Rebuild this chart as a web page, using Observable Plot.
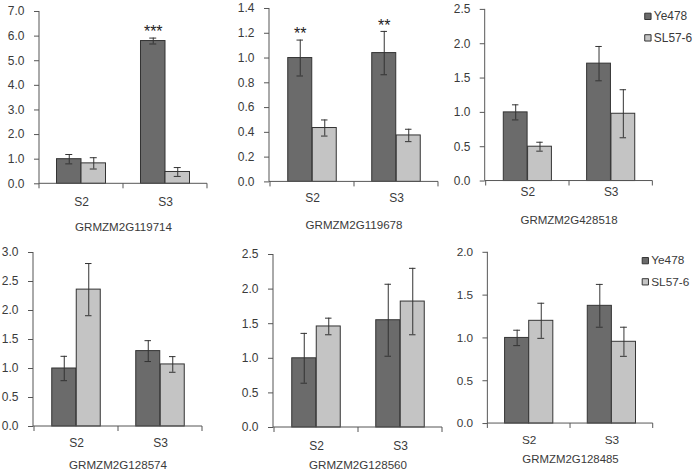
<!DOCTYPE html>
<html><head><meta charset="utf-8">
<script src="https://cdn.jsdelivr.net/npm/d3@7"></script>
<script src="https://cdn.jsdelivr.net/npm/@observablehq/plot@0.6"></script>
<style>
body{margin:0;background:#fff;}
#root{position:relative;width:697px;height:473px;overflow:hidden;font-family:"Liberation Sans",Arial,sans-serif;}
.panel{position:absolute;}
</style></head><body><div id="root"></div>
<script>
// ---- data ----
const stages = ["S2", "S3"];
const series = ["Ye478", "SL57-6"];
const genes = ["GRMZM2G119714", "GRMZM2G119678", "GRMZM2G428518", "GRMZM2G128574", "GRMZM2G128560", "GRMZM2G128485"];
// relative expression per gene: [S2, S3]
const ye478Mean = [[1.0, 5.8], [1.0, 1.04], [1.0, 1.71], [1.0, 1.30], [1.0, 1.55], [1.0, 1.375]];
const ye478Err  = [[0.19, 0.12], [0.145, 0.175], [0.11, 0.25], [0.21, 0.18], [0.36, 0.52], [0.09, 0.25]];
const sl576Mean = [[0.83, 0.48], [0.435, 0.375], [0.50, 0.98], [2.36, 1.07], [1.46, 1.82], [1.20, 0.955]];
const sl576Err  = [[0.23, 0.18], [0.065, 0.05], [0.065, 0.35], [0.45, 0.135], [0.12, 0.48], [0.205, 0.17]];
// significance marks on Ye478 bars: [S2, S3]
const signif = [["", "***"], ["**", "**"], ["", ""], ["", ""], ["", ""], ["", ""]];
// y-axis tick labels per gene
const yTicks = [
  [0, 1, 2, 3, 4, 5, 6, 7],
  [0, 0.2, 0.4, 0.6, 0.8, 1.0, 1.2, 1.4],
  [0, 0.5, 1.0, 1.5, 2.0, 2.5],
  [0, 0.5, 1.0, 1.5, 2.0, 2.5, 3.0],
  [0, 0.5, 1.0, 1.5, 2.0, 2.5],
  [0, 0.5, 1.0, 1.5, 2.0]
];

// ---- layout (pixels) ----
const layout = [
  {ax: 39,  top: 11,  bottom: 183.3, right: 207, catY: 201.7, geneY: 226.7},
  {ax: 269, top: 8.3, bottom: 181.7, right: 438, catY: 197.7, geneY: 225},
  {ax: 485, top: 9,   bottom: 182,   right: 654, catY: 192.7, geneY: 221.7, legend: {dx: -5, dy: 7, gap: 21.7}},
  {ax: 33,  top: 252, bottom: 426,   right: 202, catY: 442.3, geneY: 464.3},
  {ax: 273, top: 254, bottom: 427,   right: 442, catY: 445.7, geneY: 465},
  {ax: 488, top: 252, bottom: 426,   right: 656, catY: 442.3, geneY: 462.7, legend: {dx: -8, dy: 8.5, gap: 21.5}}
];
const colors = {"Ye478": "#6b6b6b", "SL57-6": "#c4c4c4"};
const outline = "#333";
const axisColor = "#555";
const textColor = "#3a3a3a";
const font = "'Liberation Sans', Arial, sans-serif";

const ML = 40, MT = 12, MR = 45, MB = 50;

function axesMark(index, scales, values, dims) {
  const x = scales.x, y = scales.y;
  const bw = x.bandwidth ? x.bandwidth() : 0;
  const y0 = y(0);
  const left = dims.marginLeft;
  const g = d3.create("svg:g").attr("stroke", axisColor).attr("fill", "none").attr("stroke-width", 1);
  g.append("line").attr("x1", left).attr("x2", left).attr("y1", dims.marginTop).attr("y2", y0);
  g.append("line").attr("x1", left).attr("x2", x(stages[stages.length - 1]) + bw).attr("y1", y0).attr("y2", y0);
  const edges = stages.map(s => x(s)).concat([x(stages[stages.length - 1]) + bw]);
  for (const e of edges) {
    g.append("line").attr("x1", e).attr("x2", e).attr("y1", y0).attr("y2", y0 + 5);
  }
  return g.node();
}

const root = document.getElementById("root");
genes.forEach((gene, i) => {
  const L = layout[i];
  const plotW = L.right - L.ax, plotH = L.bottom - L.top;
  const W = ML + plotW + MR, H = MT + plotH + MB;
  const yeRows = stages.map((s, j) => ({stage: s, v: ye478Mean[i][j], e: ye478Err[i][j], sig: signif[i][j]}));
  const slRows = stages.map((s, j) => ({stage: s, v: sl576Mean[i][j], e: sl576Err[i][j]}));
  const bw = plotW / stages.length;
  const barW = 24.5;
  const pairOuter = (bw - 2 * barW) / 2;
  const capW = 7;
  const yeC = pairOuter + barW / 2, slC = pairOuter + barW * 1.5;
  const marks = [
    Plot.barY(yeRows, {x: "stage", y: "v", fill: colors["Ye478"], stroke: outline, strokeWidth: 1, insetLeft: pairOuter, insetRight: bw - pairOuter - barW}),
    Plot.barY(slRows, {x: "stage", y: "v", fill: colors["SL57-6"], stroke: outline, strokeWidth: 1, insetLeft: pairOuter + barW, insetRight: pairOuter}),
    Plot.ruleX(yeRows, {x: "stage", y1: d => d.v - d.e, y2: d => d.v + d.e, dx: yeC - bw / 2, stroke: outline}),
    Plot.ruleX(slRows, {x: "stage", y1: d => d.v - d.e, y2: d => d.v + d.e, dx: slC - bw / 2, stroke: outline}),
    Plot.tickY(yeRows, {x: "stage", y: d => d.v - d.e, insetLeft: yeC - capW / 2, insetRight: bw - yeC - capW / 2, stroke: outline}),
    Plot.tickY(yeRows, {x: "stage", y: d => d.v + d.e, insetLeft: yeC - capW / 2, insetRight: bw - yeC - capW / 2, stroke: outline}),
    Plot.tickY(slRows, {x: "stage", y: d => d.v - d.e, insetLeft: slC - capW / 2, insetRight: bw - slC - capW / 2, stroke: outline}),
    Plot.tickY(slRows, {x: "stage", y: d => d.v + d.e, insetLeft: slC - capW / 2, insetRight: bw - slC - capW / 2, stroke: outline}),
    Plot.text(yeRows.filter(d => d.sig), {x: "stage", y: d => d.v + d.e, text: "sig", dx: yeC - bw / 2, dy: -6, fontSize: 16, fill: "#222", lineAnchor: "middle"}),
    Plot.axisY(yTicks[i], {tickFormat: d3.format(".1f"), tickSize: 5, tickPadding: 10, stroke: axisColor, fill: textColor, fontSize: 12, label: null}),
    Plot.axisX({tickSize: 0, tickPadding: L.catY - L.bottom - 4.3, fill: textColor, fontSize: 12, label: null}),
    Plot.text([gene], {frameAnchor: "bottom", dy: L.geneY - L.bottom, fontSize: 11.6, fill: textColor, lineAnchor: "middle"}),
    axesMark
  ];
  if (L.legend) {
    series.forEach((s, k) => {
      marks.push(Plot.dot([s], {frameAnchor: "top-right", dx: L.legend.dx, dy: L.legend.dy + k * L.legend.gap, symbol: "square", r: 3.6, fill: colors[s], stroke: outline, strokeWidth: 1}));
      marks.push(Plot.text([s], {frameAnchor: "top-right", dx: L.legend.dx + 6, dy: L.legend.dy + k * L.legend.gap, textAnchor: "start", fontSize: 12, fill: textColor, lineAnchor: "middle"}));
    });
  }
  const chart = Plot.plot({
    width: W, height: H,
    marginLeft: ML, marginRight: MR, marginTop: MT, marginBottom: MB,
    style: {fontFamily: font, fontSize: "12px", color: textColor, background: "transparent", overflow: "visible"},
    x: {domain: stages, padding: 0, axis: null},
    y: {domain: [0, yTicks[i][yTicks[i].length - 1]], axis: null},
    marks
  });
  const div = document.createElement("div");
  div.className = "panel";
  div.style.left = (L.ax - ML) + "px";
  div.style.top = (L.top - MT) + "px";
  div.appendChild(chart);
  root.appendChild(div);
});
</script>
</body></html>
